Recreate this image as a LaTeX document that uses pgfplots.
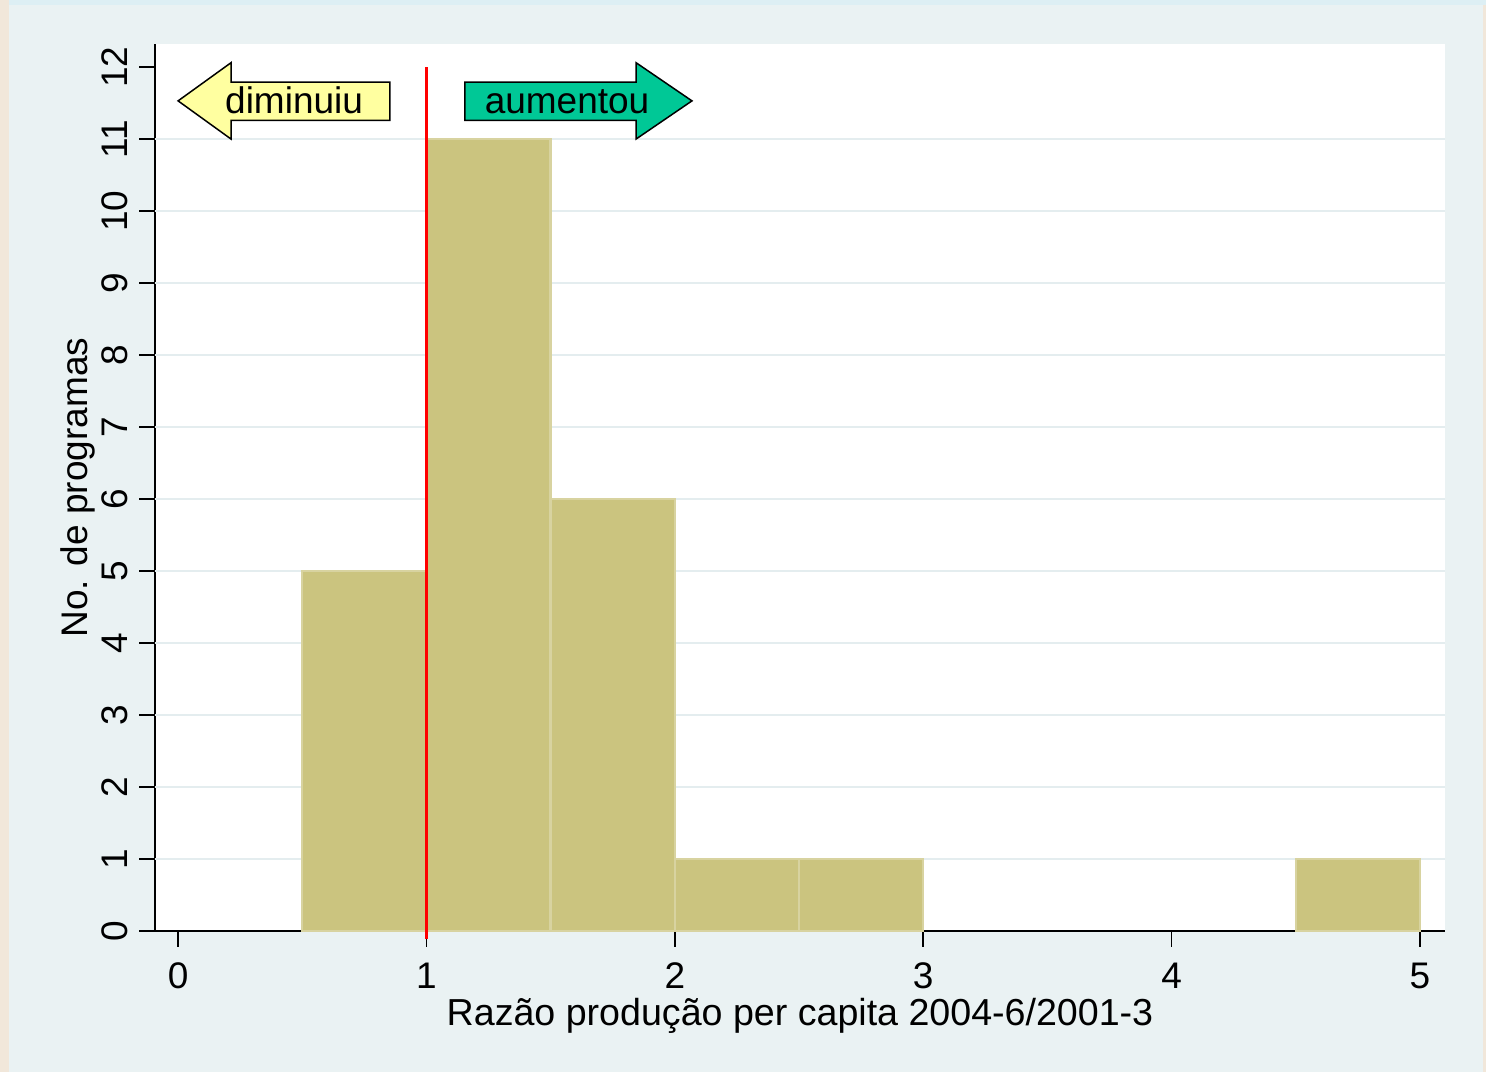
\documentclass[border=0pt]{standalone}
\usepackage{fontspec}
\setmainfont{Liberation Sans}
\usepackage{pgfplots}
\pgfplotsset{compat=1.18}
\definecolor{framecol}{HTML}{EAF2F3}
\definecolor{gridcol}{HTML}{E4EDEF}
\definecolor{barfill}{HTML}{CBC47F}
\definecolor{baredge}{HTML}{D8D3A0}
\definecolor{yelarrow}{HTML}{FFFFA0}
\definecolor{grnarrow}{HTML}{00C896}
\definecolor{beige}{HTML}{F1E7DA}
\definecolor{topblue}{HTML}{DDEFF4}
\newcommand{\myfont}{\fontsize{18.5}{22}\selectfont}
\newcommand{\xlfont}{\fontsize{18.8}{22}\selectfont}
\begin{document}
\begin{tikzpicture}
\useasboundingbox (-77.5pt,-70.5pt) rectangle (665.5pt,465.5pt);
\fill[beige] (-77.5pt,-70.5pt) rectangle (665.5pt,465.5pt);
\fill[topblue] (-73pt,463pt) rectangle (665.5pt,465.5pt);
\fill[framecol] (-73pt,-70.5pt) rectangle (664pt,463pt);
\begin{axis}[
  scale only axis,
  width=645pt, height=443.5pt,
  xmin=-0.093, xmax=5.101, ymin=0, ymax=12.32,
  axis background/.style={fill=white},
  axis x line=bottom, axis y line=left,
  axis line style={-, black, line width=0.9pt},
  xtick={0,1,2,3,4,5}, ytick={0,1,...,12},
  extra y ticks={1,2,...,11},
  extra y tick style={grid=major, major tick length=0pt, yticklabels={}},
  y grid style={gridcol, line width=1.4pt},
  tick align=outside, major tick length=7.75pt,
  tick style={black, line width=0.8pt},
  /pgf/number format/assume math mode=true,
  tick label style={font=\myfont},
  yticklabel style={rotate=90, anchor=base, yshift=6pt},
  xticklabel style={anchor=base, yshift=-21pt},
  label style={font=\myfont},
  xlabel={Razão produção per capita 2004-6/2001-3},
  ylabel={No. de programas},
  xlabel style={at={(axis description cs:0.5,0)}, anchor=base, yshift=-47pt, font=\xlfont},
  ylabel style={at={(axis description cs:0,0.5)}, anchor=base, rotate=0, yshift=33.5pt},
  clip=false,
]
\addplot[ybar interval, fill=barfill, draw=baredge, line width=1.2pt]
  coordinates {(0.5,5) (1,11) (1.5,6) (2,1) (2.5,1) (3,0)};
\addplot[ybar interval, fill=barfill, draw=baredge, line width=1.2pt]
  coordinates {(4.5,1) (5,1)};
\addplot[red, line width=1.3pt, mark=none] coordinates {(1,-0.11) (1,12)};
% arrows
\draw[fill=yelarrow, draw=black, line width=0.75pt]
  (axis cs:0,11.53) -- (axis cs:0.213,12.06) -- (axis cs:0.213,11.79)
  -- (axis cs:0.853,11.79) -- (axis cs:0.853,11.26) -- (axis cs:0.213,11.26)
  -- (axis cs:0.213,11.0) -- cycle;
\draw[fill=grnarrow, draw=black, line width=0.75pt]
  (axis cs:2.069,11.53) -- (axis cs:1.844,12.06) -- (axis cs:1.844,11.79)
  -- (axis cs:1.155,11.79) -- (axis cs:1.155,11.26) -- (axis cs:1.844,11.26)
  -- (axis cs:1.844,11.0) -- cycle;
\node[font=\myfont, anchor=base, inner sep=0pt] at (axis cs:0.467,11.35) {diminuiu};
\node[font=\myfont, anchor=base, inner sep=0pt] at (axis cs:1.566,11.35) {aumentou};
\end{axis}
\end{tikzpicture}
\end{document}
